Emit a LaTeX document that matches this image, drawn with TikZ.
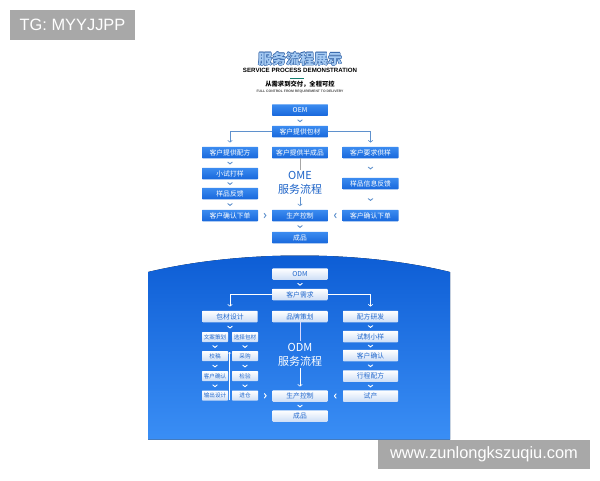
\documentclass[tikz,border=0pt]{standalone}
\usepackage{fontspec}
\usepackage{graphicx}
\setmainfont{Liberation Sans}
\newfontfamily\cjk{Noto Sans CJK SC}
\usetikzlibrary{arrows.meta,calc}
\definecolor{oblue}{RGB}{24,104,220}
\definecolor{oblueT}{RGB}{60,140,240}
\definecolor{lineb}{RGB}{95,145,205}
\definecolor{txtb}{RGB}{35,105,205}
\definecolor{lbox}{RGB}{205,222,246}
\definecolor{bgtop}{RGB}{12,92,212}
\definecolor{bgbot}{RGB}{58,142,245}
\definecolor{wmgray}{RGB}{168,168,168}
\definecolor{tlight}{RGB}{165,202,242}
\definecolor{tdark}{RGB}{45,95,165}
\definecolor{omet}{RGB}{30,100,200}
\definecolor{tealline}{RGB}{20,125,110}
\tikzset{
  chev/.pic={\draw[line width=0.9pt,line cap=round,line join=round] (-2.2,-0.9) -- (0,0.9) -- (2.2,-0.9);},
  chevR/.pic={\draw[line width=0.9pt,line cap=round,line join=round] (-0.9,-2.2) -- (0.9,0) -- (-0.9,2.2);},
  chevL/.pic={\draw[line width=0.9pt,line cap=round,line join=round] (0.9,-2.2) -- (-0.9,0) -- (0.9,2.2);},
  ob/.style={top color=oblueT,bottom color=oblue,draw=none,minimum width=56pt,minimum height=11.5pt,inner sep=0pt,text=white,font=\cjk\fontsize{6.8}{7}\selectfont,rounded corners=0.6pt},
  db/.style={top color=white,bottom color=lbox,draw=none,minimum width=55pt,minimum height=11.5pt,inner sep=0pt,text=txtb,font=\cjk\fontsize{6.8}{7}\selectfont,rounded corners=0.6pt},
  sb/.style={db,minimum width=26pt,minimum height=10pt,font=\cjk\fontsize{5.6}{6}\selectfont},
  conn/.style={line width=0.6pt,-{Straight Barb[length=1.8pt,width=4.5pt]}},
  wmbox/.style={fill=wmgray,text=white,inner sep=0pt,font=\fontsize{16.4}{18}\selectfont},
  titlef/.style={inner sep=0pt,font=\cjk\bfseries\fontsize{14}{14}\selectfont},
  bigt/.style={inner sep=0pt,align=center,font=\cjk\fontsize{11}{14}\selectfont}
}
\begin{document}
\begin{tikzpicture}[x=1pt,y=-1pt]
\useasboundingbox (0,0) rectangle (600,480);
\fill[white] (0,0) rectangle (600,480);

% title
\foreach \dx/\dy [count=\i] in {-0.35/0,0.35/0,0/-0.35,0/0.35,-0.25/-0.25,0.25/0.25,-0.25/0.25,0.25/-0.25}
  \node[titlef,text=tdark] (tsh\i) at (300+\dx,59+\dy) {服务流程展示};
\node[titlef,text=tlight] (title) at (300,59) {服务流程展示};
\node[inner sep=0pt,font=\bfseries\fontsize{6}{6}\selectfont] (sub1) at (300,70.5) {\resizebox{114pt}{!}{SERVICE PROCESS DEMONSTRATION}};
\draw[tealline,line width=0.9pt] (290,78) -- (304,78);
\node[inner sep=0pt,font=\cjk\bfseries\fontsize{6.3}{6}\selectfont] (sub2) at (300,84) {从需求到交付，全程可控};
\node[inner sep=0pt,text=black!70] (sub3) at (300,92) {\resizebox{87pt}{!}{\bfseries FULL CONTROL FROM REQUIREMENT TO DELIVERY}};

% OME section
\node[ob] (oem) at (300,110) {OEM};
\node[ob] (bc) at (300,131.5) {客户提供包材};
\node[ob] (pf) at (230,152.5) {客户提供配方};
\node[ob] (half) at (300,152.5) {客户提供半成品};
\node[ob] (req) at (370.5,152.5) {客户要求供样};
\node[ob] (xs) at (230,173.5) {小试打样};
\node[ob] (fk) at (230,193.5) {样品反馈};
\node[ob] (qr1) at (230,215.5) {客户确认下单};
\node[ob] (xx) at (370.5,183.5) {样品信息反馈};
\node[ob] (qr2) at (370.5,215.5) {客户确认下单};
\node[ob] (prod1) at (300,215.5) {生产控制};
\node[ob] (fin1) at (300,237.5) {成品};
\node[bigt,text=omet] (omet1) at (300,183) {OME\\服务流程};

\begin{scope}[color=lineb]
\pic at ($(oem.south)!.5!(bc.north)$) {chev};
\pic at ($(pf.south)!.5!(xs.north)$) {chev};
\pic at ($(xs.south)!.5!(fk.north)$) {chev};
\pic at ($(fk.south)!.5!(qr1.north)$) {chev};
\pic at ($(req.south)!.5!(xx.north)$) {chev};
\pic at ($(xx.south)!.5!(qr2.north)$) {chev};
\pic at ($(prod1.south)!.5!(fin1.north)$) {chev};
\pic at ($(qr1.east)!.5!(prod1.west)$) {chevR};
\pic at ($(qr2.west)!.5!(prod1.east)$) {chevL};
\draw[conn,shorten >=4pt] (bc.west) -| (pf.north);
\draw[conn,shorten >=4pt] (bc.east) -| (req.north);
\draw[line width=0.6pt,gray!70,shorten >=1.5pt] (half) -- (omet1);
\draw[conn,shorten <=2pt,shorten >=3.5pt] (omet1) -- (prod1);
\end{scope}

% ODM blue background
\fill[top color=bgtop,bottom color=bgbot] (148,272) .. controls (240,250) and (360,250) .. (450,272) -- (450,439.5) -- (148,439.5) -- cycle;

\node[db] (odm) at (300,274) {ODM};
\node[db] (xq) at (300,294.5) {客户需求};
\node[db] (bz) at (230,316.5) {包材设计};
\node[db] (pp) at (300,316.5) {品牌策划};
\node[db] (yf) at (370.5,316.5) {配方研发};
\node[sb] (wa) at (215,337) {文案策划};
\node[sb] (xz) at (245,337) {选择包材};
\node[sb] (jg) at (215,356) {校稿};
\node[sb] (cg) at (245,356) {采购};
\node[sb] (kq) at (215,376) {客户确认};
\node[sb] (jy) at (245,376) {检验};
\node[sb] (sc) at (215,395.5) {输出设计};
\node[sb] (jc) at (245,395.5) {进仓};
\node[db] (sz) at (370.5,336.5) {试制小样};
\node[db] (kq2) at (370.5,355.5) {客户确认};
\node[db] (xc) at (370.5,376) {行程配方};
\node[db] (sp) at (370.5,396) {试产};
\node[db] (prod2) at (300,396) {生产控制};
\node[db] (fin2) at (300,416) {成品};
\node[bigt,text=white] (odmt) at (300,354.5) {ODM\\服务流程};
\coordinate (vlb) at (229.5,400);
\coordinate (vlt) at (229.5,352);

\begin{scope}[color=white]
\pic at ($(odm.south)!.5!(xq.north)$) {chev};
\pic at ($(bz.south)!.5!(bz.south |- wa.north)$) {chev};
\pic at ($(wa.south)!.5!(jg.north)$) {chev};
\pic at ($(xz.south)!.5!(cg.north)$) {chev};
\pic at ($(jg.south)!.5!(kq.north)$) {chev};
\pic at ($(cg.south)!.5!(jy.north)$) {chev};
\pic at ($(kq.south)!.5!(sc.north)$) {chev};
\pic at ($(jy.south)!.5!(jc.north)$) {chev};
\pic at ($(yf.south)!.5!(sz.north)$) {chev};
\pic at ($(sz.south)!.5!(kq2.north)$) {chev};
\pic at ($(kq2.south)!.5!(xc.north)$) {chev};
\pic at ($(xc.south)!.5!(sp.north)$) {chev};
\pic at ($(prod2.south)!.5!(fin2.north)$) {chev};
\pic at ($(jc.east)!.5!(prod2.west)$) {chevR};
\pic at ($(sp.west)!.5!(prod2.east)$) {chevL};
\draw[conn,shorten >=4pt] (xq.west) -| (bz.north);
\draw[conn,shorten >=4pt] (xq.east) -| (yf.north);
\draw[line width=0.6pt,white!85!blue,shorten >=2pt] (pp) -- (odmt);
\draw[conn,shorten <=2pt,shorten >=3.5pt] (odmt) -- (prod2);
\draw[line width=0.5pt,-{Straight Barb[length=1.2pt,width=3pt]}] (vlb) -- (vlt);
\end{scope}

% watermarks
\node[wmbox,minimum width=125pt,minimum height=30pt] (wm1) at (72.5,25) {TG: MYYJJPP};
\node[wmbox,minimum width=212pt,minimum height=29pt] (wm2) at (484,454.5) {www.zunlongkszuqiu.com};
\end{tikzpicture}
\end{document}
